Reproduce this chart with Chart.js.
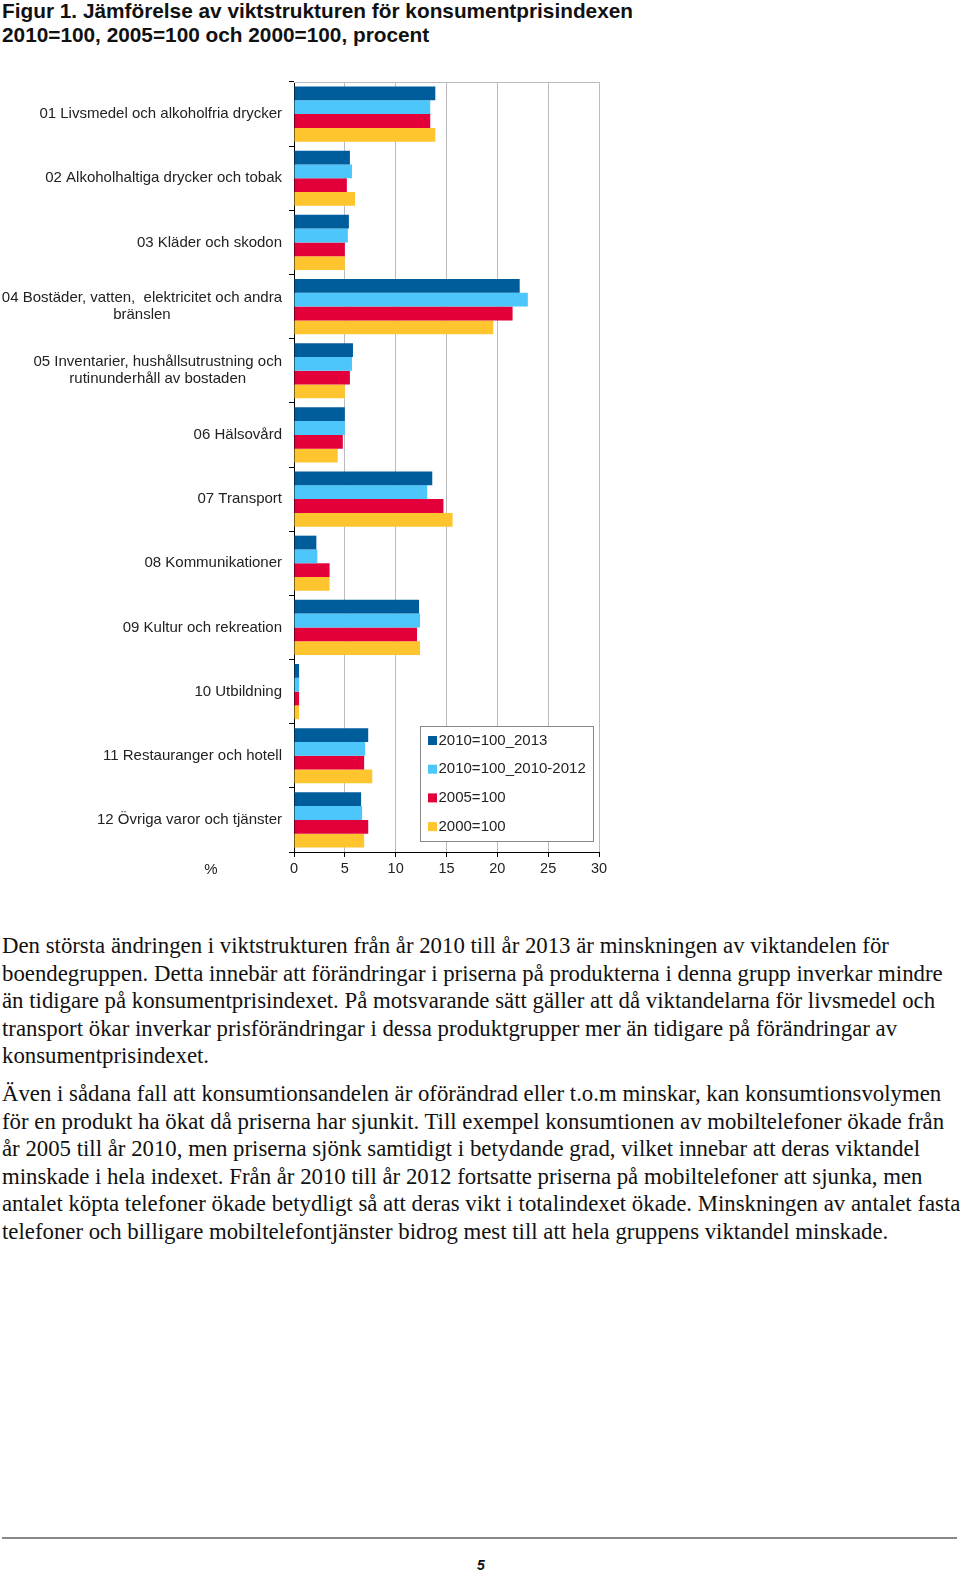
<!DOCTYPE html>
<html>
<head>
<meta charset="utf-8">
<script src="https://cdn.jsdelivr.net/npm/chart.js@4.4.1/dist/chart.umd.min.js"></script>
<style>
  body { margin: 0; background: #fff; width: 960px; height: 1572px; position: relative; overflow: hidden; }
  #title { position: absolute; left: 2px; top: -1px; font: bold 20.8px "Liberation Sans", Arial, sans-serif; line-height: 24px; color: #111; white-space: nowrap; }
  #chartbox { position: absolute; left: 0; top: 70px; width: 620px; height: 822px; }
  .txt { position: absolute; left: 2px; font: 22.8px "Liberation Serif", "Times New Roman", serif; line-height: 27.5px; color: #111; white-space: nowrap; }
  #p1 { top: 932px; }
  #p2 { top: 1080px; }
  #rule { position: absolute; left: 2px; top: 1537px; width: 955px; height: 0; border-top: 2px solid #888; }
  #page { position: absolute; left: 477px; top: 1557px; font: italic bold 14px "Liberation Sans", Arial, sans-serif; color: #111; }
</style>
</head>
<body>
<div id="title">Figur 1. Jämförelse av viktstrukturen för konsumentprisindexen<br>2010=100, 2005=100 och 2000=100, procent</div>
<div id="chartbox"><canvas id="chartroot"></canvas></div>
<div class="txt" id="p1">Den största ändringen i viktstrukturen från år 2010 till år 2013 är minskningen av viktandelen för<br>boendegruppen. Detta innebär att förändringar i priserna på produkterna i denna grupp inverkar mindre<br>än tidigare på konsumentprisindexet. På motsvarande sätt gäller att då viktandelarna för livsmedel och<br>transport ökar inverkar prisförändringar i dessa produktgrupper mer än tidigare på förändringar av<br>konsumentprisindexet.</div>
<div class="txt" id="p2">Även i sådana fall att konsumtionsandelen är oförändrad eller t.o.m minskar, kan konsumtionsvolymen<br>för en produkt ha ökat då priserna har sjunkit. Till exempel konsumtionen av mobiltelefoner ökade från<br>år 2005 till år 2010, men priserna sjönk samtidigt i betydande grad, vilket innebar att deras viktandel<br>minskade i hela indexet. Från år 2010 till år 2012 fortsatte priserna på mobiltelefoner att sjunka, men<br>antalet köpta telefoner ökade betydligt så att deras vikt i totalindexet ökade. Minskningen av antalet fasta<br>telefoner och billigare mobiltelefontjänster bidrog mest till att hela gruppens viktandel minskade.</div>
<div id="rule"></div>
<div id="page">5</div>
<script>
const categories = [
    ['01 Livsmedel och alkoholfria drycker'],
    ['02 Alkoholhaltiga drycker och tobak'],
    ['03 Kläder och skodon'],
    ['04 Bostäder, vatten,  elektricitet och andra', 'bränslen'],
    ['05 Inventarier, hushållsutrustning och', 'rutinunderhåll av bostaden'],
    ['06 Hälsovård'],
    ['07 Transport'],
    ['08 Kommunikationer'],
    ['09 Kultur och rekreation'],
    ['10 Utbildning'],
    ['11 Restauranger och hotell'],
    ['12 Övriga varor och tjänster']
];
const seriesNames = ['2010=100_2013', '2010=100_2010-2012', '2005=100', '2000=100'];
const base2010_2013 = [13.9, 5.5, 5.4, 22.2, 5.8, 5.0, 13.6, 2.2, 12.3, 0.5, 7.3, 6.6];
const base2010_1012 = [13.4, 5.7, 5.3, 23.0, 5.7, 5.0, 13.1, 2.3, 12.4, 0.5, 7.0, 6.7];
const base2005 = [13.4, 5.2, 5.0, 21.5, 5.5, 4.8, 14.7, 3.5, 12.1, 0.5, 6.9, 7.3];
const base2000 = [13.9, 6.0, 5.0, 19.6, 5.0, 4.3, 15.6, 3.5, 12.4, 0.5, 7.7, 6.9];
const xTicks = [0, 5, 10, 15, 20, 25, 30];
const colorArr = ['#005d9c', '#4cc6fb', '#e3003a', '#ffc52f'];

const labelFont = '15px "Liberation Sans", Arial, sans-serif';

// draws category labels (two-line ones centred under their first line), the % mark, the frame and the legend
const extras = {
    id: 'extras',
    afterDraw(chart) {
        const ctx = chart.ctx;
        const area = chart.chartArea;
        const y = chart.scales.y;
        ctx.save();
        ctx.font = labelFont;
        ctx.fillStyle = '#222';
        ctx.textBaseline = 'middle';
        ctx.textAlign = 'center';
        const right = area.left - 12;
        categories.forEach((lines, i) => {
            const mid = y.getPixelForValue(i);
            const w = Math.max(...lines.map(l => ctx.measureText(l).width));
            const top = mid - (lines.length - 1) * 8.5;
            lines.forEach((l, j) => ctx.fillText(l, right - w / 2, top + j * 17));
        });
        ctx.fillText('%', area.left - 83, area.bottom + 18);

        // top frame line
        ctx.strokeStyle = '#bbb';
        ctx.lineWidth = 1;
        ctx.beginPath();
        ctx.moveTo(area.left, area.top + 0.5);
        ctx.lineTo(area.right, area.top + 0.5);
        ctx.stroke();

        // legend inside the plot
        const bx = area.left + 126.5, by = area.bottom - 125.5, bw = 173, bh = 115;
        ctx.fillStyle = '#fff';
        ctx.fillRect(bx, by, bw, bh);
        ctx.strokeStyle = '#888';
        ctx.strokeRect(bx, by, bw, bh);
        ctx.textAlign = 'left';
        chart.data.datasets.forEach((ds, i) => {
            const iy = by + 14 + i * 28.7;
            ctx.fillStyle = ds.backgroundColor;
            ctx.fillRect(bx + 7.5, iy - 4.5, 9, 9);
            ctx.fillStyle = '#222';
            ctx.fillText(ds.label, bx + 18, iy);
        });
        ctx.restore();
    }
};

new Chart(document.getElementById('chartroot'), {
    type: 'bar',
    data: {
        labels: categories.map(c => c.join(' ')),
        datasets: [base2010_2013, base2010_1012, base2005, base2000].map((data, i) => ({
            label: seriesNames[i],
            data,
            backgroundColor: colorArr[i],
            borderWidth: 0,
            categoryPercentage: 0.86,
            barPercentage: 1.0
        }))
    },
    options: {
        indexAxis: 'y',
        responsive: true,
        maintainAspectRatio: false,
        animation: false,
        layout: { padding: { top: 12, right: 21, left: 0, bottom: 0 } },
        plugins: {
            legend: { display: false },
            tooltip: { enabled: false }
        },
        scales: {
            x: {
                min: 0,
                max: 30,
                afterBuildTicks: scale => { scale.ticks = xTicks.map(v => ({ value: v })); },
                afterFit: scale => { scale.height = 40; },
                border: { color: '#000', width: 1 },
                grid: { color: '#bbb', tickColor: '#000', tickLength: 5 },
                ticks: { color: '#222', font: { family: '"Liberation Sans", Arial, sans-serif', size: 14.5 }, padding: 3 }
            },
            y: {
                afterFit: scale => { scale.width = 294; },
                border: { color: '#000', width: 1 },
                grid: { drawOnChartArea: false, color: '#000', tickLength: 5 },
                ticks: { display: false }
            }
        }
    },
    plugins: [extras]
});
</script>
</body>
</html>
